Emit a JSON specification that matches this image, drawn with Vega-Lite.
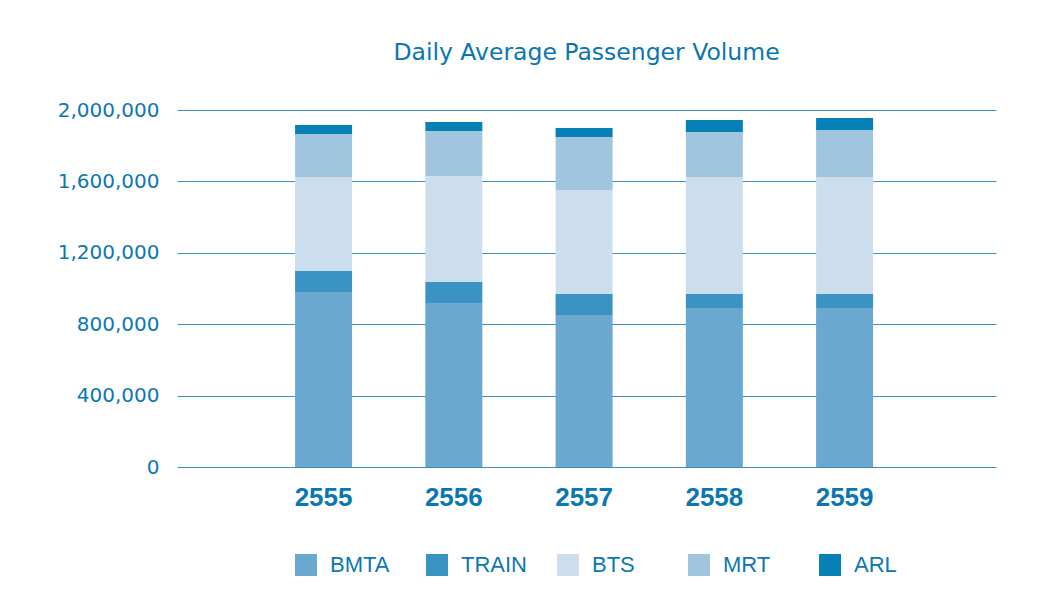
{
  "$schema": "https://vega.github.io/schema/vega-lite/v6.json",
  "autosize": "none",
  "width": 819,
  "height": 357,
  "padding": {"left": 177, "top": 110, "right": 54, "bottom": 137},
  "background": "white",
  "title": {
    "text": "Daily Average Passenger Volume",
    "font": "DejaVu Sans",
    "fontSize": 23.5,
    "fontWeight": "normal",
    "color": "#0a76b0",
    "anchor": "middle",
    "frame": "group",
    "baseline": "alphabetic",
    "offset": 17
  },
  "data": {
    "values": [
      {"year": "2555", "mode": "BMTA", "rank": 1, "value": 980000},
      {"year": "2555", "mode": "TRAIN", "rank": 2, "value": 118000},
      {"year": "2555", "mode": "BTS", "rank": 3, "value": 527000},
      {"year": "2555", "mode": "MRT", "rank": 4, "value": 240000},
      {"year": "2555", "mode": "ARL", "rank": 5, "value": 51000},
      {"year": "2556", "mode": "BMTA", "rank": 1, "value": 919000},
      {"year": "2556", "mode": "TRAIN", "rank": 2, "value": 117000},
      {"year": "2556", "mode": "BTS", "rank": 3, "value": 594000},
      {"year": "2556", "mode": "MRT", "rank": 4, "value": 252000},
      {"year": "2556", "mode": "ARL", "rank": 5, "value": 51000},
      {"year": "2557", "mode": "BMTA", "rank": 1, "value": 851000},
      {"year": "2557", "mode": "TRAIN", "rank": 2, "value": 118000},
      {"year": "2557", "mode": "BTS", "rank": 3, "value": 583000},
      {"year": "2557", "mode": "MRT", "rank": 4, "value": 297000},
      {"year": "2557", "mode": "ARL", "rank": 5, "value": 50000},
      {"year": "2558", "mode": "BMTA", "rank": 1, "value": 891000},
      {"year": "2558", "mode": "TRAIN", "rank": 2, "value": 78000},
      {"year": "2558", "mode": "BTS", "rank": 3, "value": 656000},
      {"year": "2558", "mode": "MRT", "rank": 4, "value": 252000},
      {"year": "2558", "mode": "ARL", "rank": 5, "value": 67000},
      {"year": "2559", "mode": "BMTA", "rank": 1, "value": 891000},
      {"year": "2559", "mode": "TRAIN", "rank": 2, "value": 78000},
      {"year": "2559", "mode": "BTS", "rank": 3, "value": 656000},
      {"year": "2559", "mode": "MRT", "rank": 4, "value": 263000},
      {"year": "2559", "mode": "ARL", "rank": 5, "value": 67000}
    ]
  },
  "mark": {"type": "bar"},
  "encoding": {
    "x": {
      "field": "year",
      "type": "nominal",
      "scale": {"paddingInner": 0.5624, "paddingOuter": 0.925, "align": 0.49},
      "axis": {
        "title": null,
        "labelAngle": 0,
        "labelFont": "Liberation Sans",
        "labelFontSize": 26,
        "labelFontWeight": "bold",
        "labelColor": "#0b77b2",
        "ticks": false,
        "tickSize": 0,
        "domain": false,
        "labelPadding": 17
      }
    },
    "y": {
      "field": "value",
      "type": "quantitative",
      "stack": "zero",
      "scale": {"domain": [0, 2000000], "nice": false},
      "axis": {
        "title": null,
        "values": [0, 400000, 800000, 1200000, 1600000, 2000000],
        "format": ",.0f",
        "labelFont": "DejaVu Sans",
        "labelFontSize": 20,
        "labelColor": "#0b77b2",
        "ticks": false,
        "tickSize": 0,
        "domain": false,
        "labelPadding": 18,
        "grid": true,
        "gridColor": "#3b8fc2",
        "gridWidth": 1,
        "gridOpacity": 1
      }
    },
    "order": {"field": "rank", "type": "quantitative", "sort": "ascending"},
    "color": {
      "field": "mode",
      "type": "nominal",
      "sort": ["BMTA", "TRAIN", "BTS", "MRT", "ARL"],
      "scale": {
        "domain": ["BMTA", "TRAIN", "BTS", "MRT", "ARL"],
        "range": ["#6aa8cf", "#3a93c3", "#ccdeee", "#a2c5df", "#0780b5"]
      },
      "legend": {
        "title": null,
        "orient": "none",
        "legendX": 118,
        "legendY": 444,
        "direction": "horizontal",
        "columns": 5,
        "gridAlign": "all",
        "columnPadding": 30,
        "symbolType": "square",
        "symbolSize": 484,
        "symbolStrokeWidth": 0,
        "symbolOpacity": 1,
        "labelFont": "Liberation Sans",
        "labelFontSize": 22,
        "labelColor": "#0b77b2",
        "labelOffset": 13,
        "labelLimit": 200
      }
    }
  },
  "config": {
    "view": {"stroke": null},
    "bar": {"stroke": null}
  }
}
